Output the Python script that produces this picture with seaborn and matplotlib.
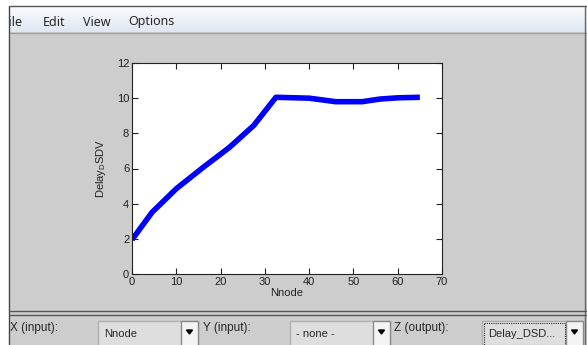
import numpy as np
import pandas as pd
import seaborn as sns
import matplotlib.pyplot as plt
from matplotlib.patches import Rectangle

# data
nnode = [0, 4.5, 10, 16, 22, 27.5, 32.5, 40, 46, 52, 56, 60, 65]
delay_dsdv = [1.95, 3.5, 4.85, 6.05, 7.2, 8.45, 10.05, 10.0, 9.8, 9.8, 9.95, 10.02, 10.05]
xticks = [0, 10, 20, 30, 40, 50, 60, 70]
yticks = [0, 2, 4, 6, 8, 10, 12]
menu_items = ["File", "Edit", "View", "Options"]

sns.set_style("ticks")
plt.rcParams['font.family'] = ['Liberation Sans', 'DejaVu Sans']

W, H = 587, 345
fig = plt.figure(figsize=(W / 100, H / 100), dpi=100)

# background "GUI" axes in pixel coordinates
bg = fig.add_axes([0, 0, 1, 1], zorder=0)
bg.set_xlim(0, W)
bg.set_ylim(H, 0)
bg.axis("off")
gray = "#cdcdcd"
bg.add_patch(Rectangle((0, 0), W, H, color=gray))
bg.add_patch(Rectangle((0, 0), W, 5.5, color="white"))
# menu bar with light gradient
grad = np.linspace(0, 1, 50).reshape(-1, 1)
bg.imshow(grad, extent=(0, W, 32.5, 5.5), cmap=sns.blend_palette(["#fbfcfe", "#dfe7f3"], as_cmap=True),
          aspect="auto", zorder=1)
bg.plot([9, W], [5.5, 5.5], color="#555555", lw=1, zorder=2)
bg.plot([0, W], [32.5, 32.5], color="#a0a0a0", lw=1, zorder=2)
bg.plot([585, 585], [5.5, H], color="#666666", lw=1, zorder=2)
bg.plot([0, W], [310.5, 310.5], color="#555555", lw=1, zorder=2)
bg.plot([0, W], [314.5, 314.5], color="#555555", lw=1, zorder=2)

menu_x = [3, 43, 83, 128]
for txt, mx in zip(menu_items, menu_x):
    bg.text(mx, 25.5, txt, fontsize=9, va="baseline", ha="left", family=["Noto Sans", "DejaVu Sans"],
            zorder=3)
# window frame on the left hides the start of "File"
bg.add_patch(Rectangle((0, 0), 9, H, color="white", zorder=4))
bg.plot([9, 9], [5.5, H], color="#444444", lw=1, zorder=5)

# bottom controls
labels = [("X (input):", 10), ("Y (input):", 203), ("Z (output):", 394)]
for txt, lx in labels:
    bg.text(lx, 328, txt, fontsize=8.5, va="center", ha="left", zorder=3)
boxes = [("Nnode", 98, 198), ("- none -", 290, 390), ("Delay_DSD...", 482, 583)]
for txt, x0, x1 in boxes:
    bg.add_patch(Rectangle((x0, 321), x1 - x0, 30, facecolor="#dedede", edgecolor="#b0b0b0", lw=1, zorder=3))
    bg.add_patch(Rectangle((x1 - 17, 321), 17, 30, facecolor="#f4f4f4", edgecolor="#8a8a8a", lw=1, zorder=3))
    bg.fill([x1 - 11.5, x1 - 5.5, x1 - 8.5], [330, 330, 334], color="black", zorder=4)
    bg.text(x0 + 6, 334, txt, fontsize=8, va="center", ha="left", zorder=4)
bg.add_patch(Rectangle((484, 323), 81, 22, fill=False, edgecolor="#333333", lw=0.8, ls=(0, (1, 1)), zorder=5))

# plot axes
left, right, top, bottom = 132, 442, 63, 274
ax = fig.add_axes([left / W, 1 - bottom / H, (right - left) / W, (bottom - top) / H], zorder=1)
df = pd.DataFrame({"Nnode": nnode, "Delay_DSDV": delay_dsdv})
sns.lineplot(data=df, x="Nnode", y="Delay_DSDV", ax=ax, color="#0000ff", lw=4, solid_capstyle="butt")
ax.set_facecolor("white")
ax.set_xlim(0, 70)
ax.set_ylim(0, 12)
ax.set_xticks(xticks)
ax.set_yticks(yticks)
ax.tick_params(direction="in", length=4, width=0.8, labelsize=8, top=True, right=True, pad=2,
               colors="#222222")
for s in ax.spines.values():
    s.set_visible(True)
    s.set_color("#222222")
    s.set_linewidth(0.8)
ax.set_xlabel("Nnode", fontsize=8, labelpad=1, color="#222222")
ax.set_ylabel(r"Delay$_\mathregular{D}$SDV", fontsize=8, labelpad=6, color="#222222")

fig.savefig("out.png", dpi=100)
